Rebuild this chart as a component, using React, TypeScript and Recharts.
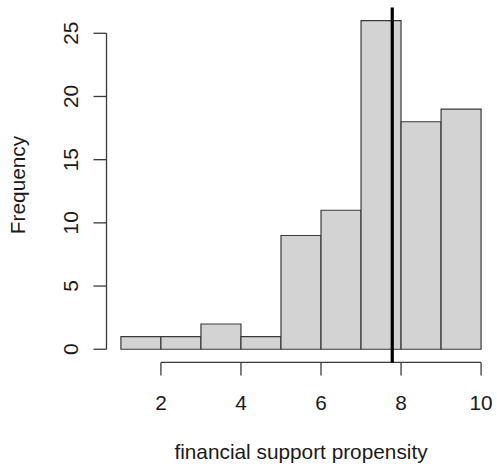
import { ComposedChart, Bar, XAxis, YAxis, ReferenceLine } from "recharts";

// histogram bins (width 1) and counts
const BIN_START = [1, 2, 3, 4, 5, 6, 7, 8, 9];
const COUNTS = [1, 1, 2, 1, 9, 11, 26, 18, 19];
const X_TICKS = [2, 4, 6, 8, 10];
const Y_TICKS = [0, 5, 10, 15, 20, 25];
const MEAN_LINE = 7.78;

// R-style 4% axis extension
const X_DOMAIN: [number, number] = [0.64, 10.36];
const Y_DOMAIN: [number, number] = [-1.04, 27.04];

const data = BIN_START.map((b, i) => ({ mid: b + 0.5, count: COUNTS[i] }));

const FONT = "'Liberation Sans', Arial, Helvetica, sans-serif";
const INK = "#1a1a1a";
const AXIS = "#3a3a3a";

function XTick({ x, payload }: any) {
  return (
    <text x={x} y={410} textAnchor="middle" fontSize={20.8} fontFamily={FONT} fill={INK}>
      {payload.value}
    </text>
  );
}

function YTick({ y, payload }: any) {
  return (
    <text
      transform={`translate(78,${y}) rotate(-90)`}
      textAnchor="middle"
      fontSize={20.8}
      fontFamily={FONT}
      fill={INK}
    >
      {payload.value}
    </text>
  );
}

export default function App() {
  return (
    <div style={{ position: "absolute", left: 0, top: 0, width: 497, height: 473, background: "#fff" }}>
      <ComposedChart
        width={497}
        height={473}
        data={data}
        margin={{ top: 7.5, right: 1.5, bottom: 0, left: 0 }}
        barCategoryGap={0}
        barGap={0}
      >
        <XAxis
          dataKey="mid"
          type="number"
          domain={X_DOMAIN}
          ticks={X_TICKS}
          allowDataOverflow
          height={110.6}
          axisLine={false}
          tickSize={13}
          tickLine={{ stroke: AXIS, strokeWidth: 1.3 }}
          tick={<XTick />}
        />
        <YAxis
          type="number"
          domain={Y_DOMAIN}
          ticks={Y_TICKS}
          allowDataOverflow
          width={106.5}
          axisLine={false}
          tickSize={13}
          tickLine={{ stroke: AXIS, strokeWidth: 1.3 }}
          tick={<YTick />}
        />
        <Bar
          dataKey="count"
          fill="#d3d3d3"
          stroke="#3a3a3a"
          strokeWidth={1.2}
          isAnimationActive={false}
        />
        {/* axis lines run from first to last tick, as in base R */}
        <ReferenceLine
          segment={[{ x: X_TICKS[0], y: Y_DOMAIN[0] }, { x: X_TICKS[X_TICKS.length - 1], y: Y_DOMAIN[0] }]}
          stroke={AXIS}
          strokeWidth={1.3}
          ifOverflow="visible"
        />
        <ReferenceLine
          segment={[{ x: X_DOMAIN[0], y: Y_TICKS[0] }, { x: X_DOMAIN[0], y: Y_TICKS[Y_TICKS.length - 1] }]}
          stroke={AXIS}
          strokeWidth={1.3}
          ifOverflow="visible"
        />
        <ReferenceLine x={MEAN_LINE} stroke="#000" strokeWidth={3.2} ifOverflow="visible" />
      </ComposedChart>
      <svg width={497} height={473} style={{ position: "absolute", left: 0, top: 0, pointerEvents: "none" }}>
        <text x={301} y={459} textAnchor="middle" fontSize={20.8} fontFamily={FONT} fill={INK}>
          financial support propensity
        </text>
        <text transform="translate(25,185) rotate(-90)" textAnchor="middle" fontSize={20.8} fontFamily={FONT} fill={INK}>
          Frequency
        </text>
      </svg>
    </div>
  );
}
